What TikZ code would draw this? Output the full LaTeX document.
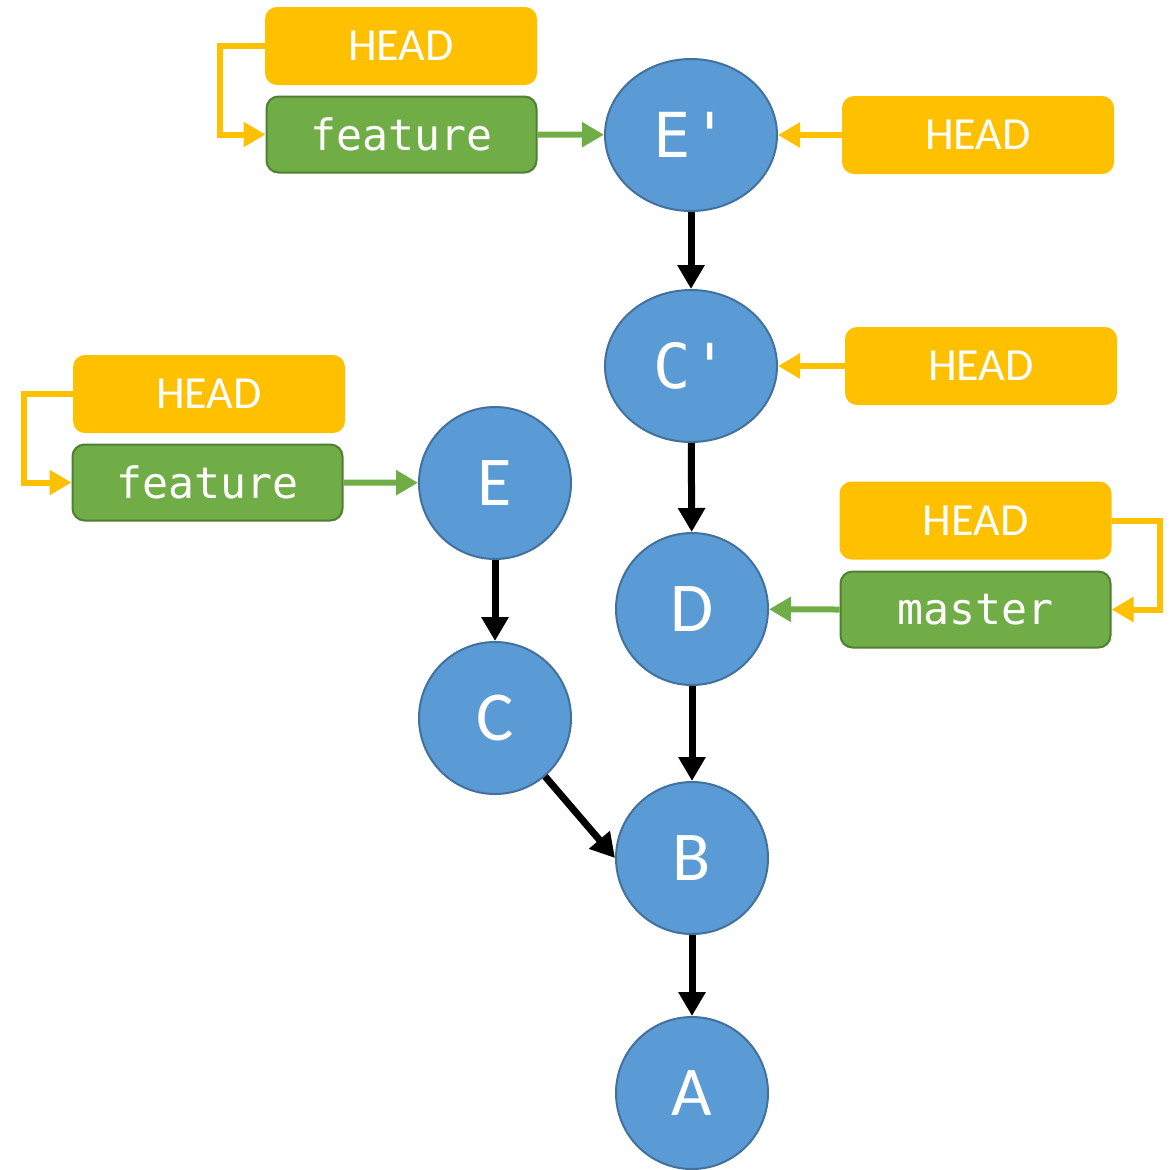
\documentclass[tikz,border=0pt]{standalone}
\usepackage{fontspec}
\setmainfont{Carlito}
\newfontfamily\codefont{DejaVu Sans Mono}
\usepackage{tikz}
\usetikzlibrary{arrows.meta,shapes.geometric}

\definecolor{headyellow}{HTML}{FFC000}
\definecolor{branchgreen}{HTML}{70AD47}
\definecolor{branchedge}{HTML}{507E32}
\definecolor{commitblue}{HTML}{5B9BD5}
\definecolor{commitedge}{HTML}{41719C}

\tikzset{
  headbox/.style={rectangle, rounded corners=6pt, fill=headyellow, text=white,
    minimum width=136pt, minimum height=39pt, inner sep=0pt,
    font=\fontsize{23}{27}\selectfont},
  branchbox/.style={rectangle, rounded corners=6pt, fill=branchgreen, draw=branchedge,
    line width=1pt, text=white, minimum width=135pt, minimum height=38pt, inner sep=0pt,
    font=\codefont\fontsize{21.6}{25}\selectfont},
  commit/.style={circle, fill=commitblue, draw=commitedge, line width=1pt, text=white,
    minimum size=76pt, inner sep=0pt, font=\fontsize{35}{40}\selectfont},
  rebased/.style={ellipse, fill=commitblue, draw=commitedge, line width=1pt, text=white,
    minimum width=86pt, minimum height=76pt, inner sep=0pt,
    font=\codefont\fontsize{31}{36}\selectfont},
  parent/.style={line width=3.5pt, -{Triangle[length=12pt,width=13pt]}},
  headline/.style={headyellow, line width=3pt, -{Triangle[length=11pt,width=12pt]}},
  branchline/.style={branchgreen, line width=3pt, -{Triangle[length=11pt,width=12pt]}}
}

\begin{document}
\begin{tikzpicture}[x=0.5pt, y=-0.5pt]
  \useasboundingbox (0,0) rectangle (1176,1169);

  % commits
  \node[rebased] (Ep) at (691,135) {E'};
  \node[rebased] (Cp) at (691,366) {C'};
  \node[commit] (E) at (495,483) {E};
  \node[commit] (C) at (495,718) {C};
  \node[commit] (D) at (692,609) {D};
  \node[commit] (B) at (692,858) {B};
  \node[commit] (A) at (692,1093) {A};

  % refs
  \node[headbox] (headtop) at (401,46) {HEAD};
  \node[branchbox] (feattop) at (401.5,134.5) {feature};
  \node[headbox] (headEp) at (978,135) {HEAD};
  \node[headbox] (headCp) at (981,366) {HEAD};
  \node[headbox] (headleft) at (209,394) {HEAD};
  \node[branchbox] (featleft) at (207.5,482.5) {feature};
  \node[headbox] (headmaster) at (975.5,520.5) {HEAD};
  \node[branchbox] (master) at (975.5,609.5) {master};

  % parent links
  \draw[parent] (Ep) -- (Cp);
  \draw[parent] (Cp) -- (D);
  \draw[parent] (E) -- (C);
  \draw[parent] (D) -- (B);
  \draw[parent] (C) -- (B.west);
  \draw[parent] (B) -- (A);

  % branch pointers
  \draw[branchline] (feattop.east) -- (Ep);
  \draw[branchline] (featleft.east) -- (E);
  \draw[branchline] (master.west) -- (D);

  % HEAD pointers
  \draw[headline] (headEp.west) -- (Ep);
  \draw[headline] (headCp.west) -- (Cp);
  \draw[headline] (headtop.west) -- ++(-45,0) |- (feattop.west);
  \draw[headline] (headleft.west) -- ++(-49,0) |- (featleft.west);
  \draw[headline] (headmaster.east) -- ++(48,0) |- (master.east);
\end{tikzpicture}
\end{document}
